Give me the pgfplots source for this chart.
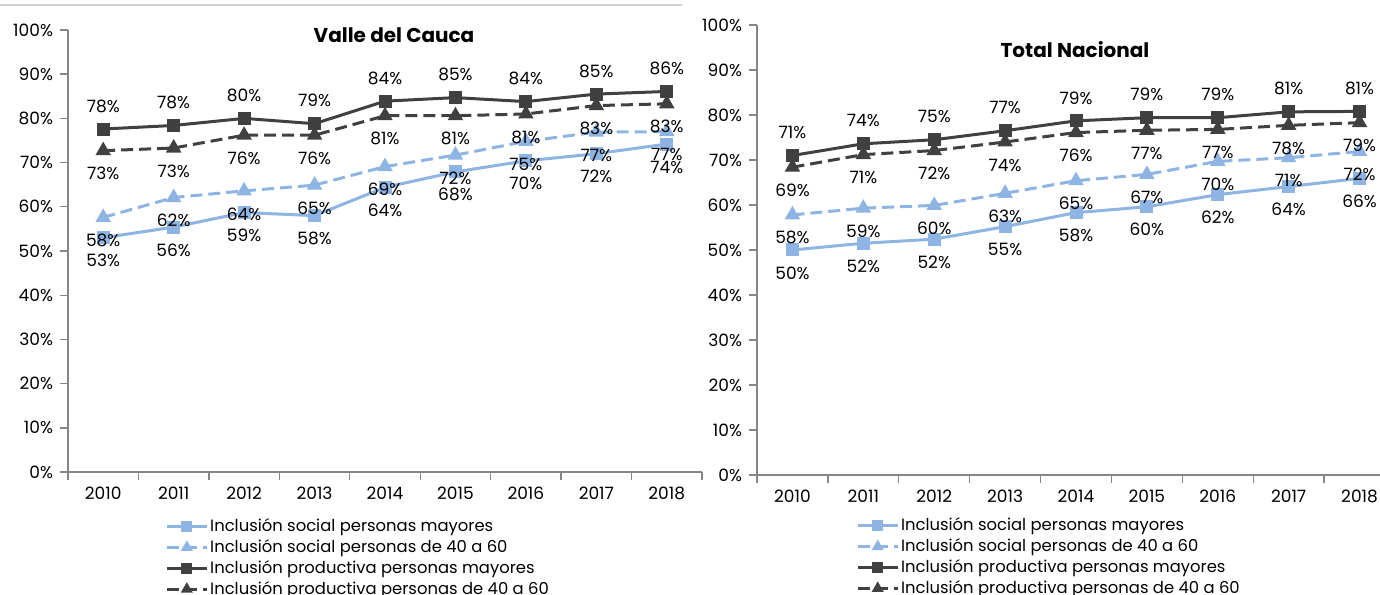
\documentclass[border=0pt]{standalone}
\usepackage{fontspec}
\setmainfont{Poppins}
\usepackage{pgfplots}
\pgfplotsset{compat=1.18}
\definecolor{lb}{HTML}{8DB4E2}
\definecolor{dg}{HTML}{404040}
\definecolor{axc}{HTML}{868686}
\pgfplotsset{
  mystyle/.style={
    scale only axis, anchor=south west,
    xmin=-0.5, xmax=8.5, ymin=0, ymax=100,
    axis x line*=bottom, axis y line*=left,
    axis line style={axc, line width=0.7pt},
    xtick={0,1,2,3,4,5,6,7,8},
    xticklabels={2010,2011,2012,2013,2014,2015,2016,2017,2018},
    minor xtick={-0.5,0.5,1.5,2.5,3.5,4.5,5.5,6.5,7.5,8.5},
    major x tick style={draw=none},
    ytick={0,10,...,100},
    yticklabel={\pgfmathprintnumber{\tick}\%},
    tick align=outside, major tick length=4pt, minor tick length=4pt,
    tick style={axc, line width=0.7pt},
    /pgf/number format/assume math mode=true,
    ticklabel style={font=\fontsize{8.5}{10}\selectfont, text=black},
    clip=false,
    point meta=explicit symbolic,
    nodes near coords,
    every node near coord/.append style={font=\fontsize{8.5}{10}\selectfont, text=black, anchor=center},
    legend style={draw=none, fill=none, font=\fontsize{8.2}{10}\selectfont, legend cell align=left,
      anchor=north west, row sep=-1.5pt, inner sep=0pt, nodes={inner xsep=1pt}},
    legend image code/.code={\draw[mark repeat=2,mark phase=2,mark size=2pt] plot coordinates {(0cm,0cm)(0.35cm,0cm)(0.7cm,0cm)};},
  },
  smy/.style={lb, line width=1.5pt, mark=square*, mark size=2.5pt, mark options={solid}},
  s40/.style={lb, line width=1.5pt, dash pattern=on 6pt off 3pt, mark=triangle*, mark size=3pt, mark options={solid}},
  pmy/.style={dg, line width=1.5pt, mark=square*, mark size=2.5pt, mark options={solid}},
  p40/.style={dg, line width=1.5pt, dash pattern=on 6pt off 3pt, mark=triangle*, mark size=3pt, mark options={solid}},
  up/.style={every node near coord/.append style={yshift=11.5pt}},
  dn/.style={every node near coord/.append style={yshift=-11.5pt}},
}
\begin{document}
\begin{tikzpicture}
\useasboundingbox (0,0) rectangle (690pt,297pt);
\draw[gray!35, line width=0.6pt] (0,294.5pt) -- (341pt,294.5pt);
% Left panel
\begin{axis}[mystyle, at={(34pt,61pt)}, width=317pt, height=221pt,
  legend style={at={(0.153,-0.095)}}]
\addplot[smy, dn] coordinates {(0,53.0)[53\%] (1,55.4)[56\%] (2,58.7)[59\%] (3,58.0)[58\%] (4,64.4)[64\%] (5,67.9)[68\%] (6,70.4)[70\%] (7,72.0)[72\%] (8,74.2)[74\%]};
\addlegendentry{Inclusión social personas mayores}
\addplot[s40, dn] coordinates {(0,57.6)[58\%] (1,62.1)[62\%] (2,63.6)[64\%] (3,64.9)[65\%] (4,69.1)[69\%] (5,71.7)[72\%] (6,74.8)[75\%] (7,76.9)[77\%] (8,77.0)[77\%]};
\addlegendentry{Inclusión social personas de 40 a 60}
\addplot[pmy, up] coordinates {(0,77.6)[78\%] (1,78.4)[78\%] (2,80.0)[80\%] (3,78.8)[79\%] (4,83.9)[84\%] (5,84.7)[85\%] (6,83.8)[84\%] (7,85.5)[85\%] (8,86.1)[86\%]};
\addlegendentry{Inclusión productiva personas mayores}
\addplot[p40, dn] coordinates {(0,72.7)[73\%] (1,73.3)[73\%] (2,76.2)[76\%] (3,76.2)[76\%] (4,80.6)[81\%] (5,80.6)[81\%] (6,81.0)[81\%] (7,82.9)[83\%] (8,83.3)[83\%]};
\addlegendentry{Inclusión productiva personas de 40 a 60}
\end{axis}
\node[font=\bfseries\fontsize{10}{12}\selectfont] at (197pt,279.5pt) {Valle del Cauca};
% Right panel
\begin{axis}[mystyle, at={(378.5pt,59.5pt)}, width=319pt, height=225pt,
  legend style={at={(0.155,-0.085)}}]
\addplot[smy, dn] coordinates {(0,50.0)[50\%] (1,51.5)[52\%] (2,52.4)[52\%] (3,55.2)[55\%] (4,58.3)[58\%] (5,59.6)[60\%] (6,62.3)[62\%] (7,64.1)[64\%] (8,65.9)[66\%]};
\addlegendentry{Inclusión social personas mayores}
\addplot[s40, dn] coordinates {(0,57.8)[58\%] (1,59.3)[59\%] (2,59.9)[60\%] (3,62.6)[63\%] (4,65.4)[65\%] (5,66.8)[67\%] (6,69.7)[70\%] (7,70.5)[71\%] (8,71.9)[72\%]};
\addlegendentry{Inclusión social personas de 40 a 60}
\addplot[pmy, up] coordinates {(0,71.0)[71\%] (1,73.6)[74\%] (2,74.5)[75\%] (3,76.5)[77\%] (4,78.7)[79\%] (5,79.4)[79\%] (6,79.4)[79\%] (7,80.7)[81\%] (8,80.8)[81\%]};
\addlegendentry{Inclusión productiva personas mayores}
\addplot[p40, dn] coordinates {(0,68.4)[69\%] (1,71.2)[71\%] (2,72.1)[72\%] (3,74.0)[74\%] (4,76.1)[76\%] (5,76.6)[77\%] (6,76.8)[77\%] (7,77.7)[78\%] (8,78.3)[79\%]};
\addlegendentry{Inclusión productiva personas de 40 a 60}
\end{axis}
\node[font=\bfseries\fontsize{10}{12}\selectfont] at (537.5pt,272pt) {Total Nacional};
\end{tikzpicture}
\end{document}
